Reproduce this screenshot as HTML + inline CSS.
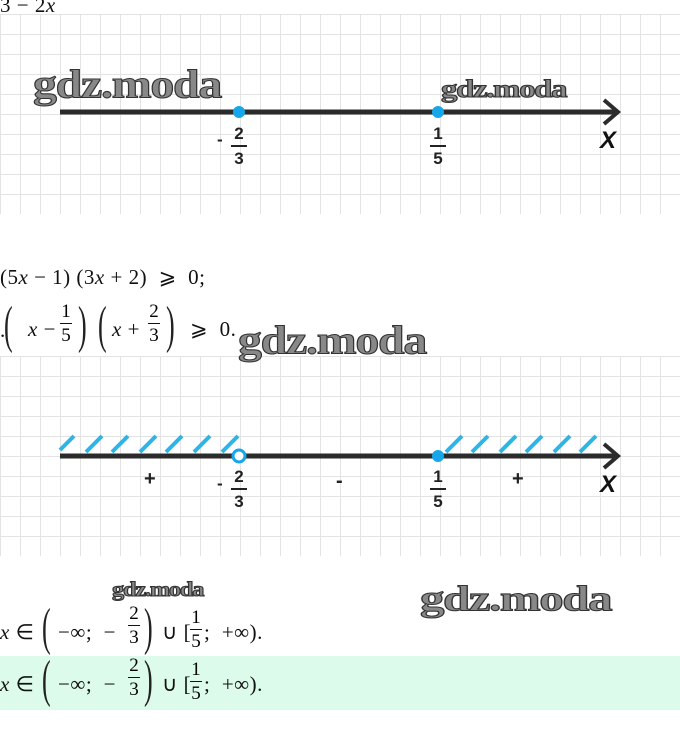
<!DOCTYPE html>
<html><head><meta charset="utf-8"><style>
body{margin:0;width:680px;height:745px;background:#fff;position:relative;overflow:hidden;font-family:"Liberation Serif",serif;}
.grid{position:absolute;left:0;width:680px;background-color:#fff;
background-image:linear-gradient(to right,#e3e3e3 1px,transparent 1px),linear-gradient(to bottom,#e3e3e3 1px,transparent 1px);
background-size:20px 20px;background-position:0 0;}
.a{position:absolute;white-space:nowrap;}
.m{font-size:21px;color:#111;letter-spacing:0.5px;}
.i{font-style:italic;}
.wm{font-family:"Liberation Serif",serif;font-weight:bold;color:#888;-webkit-text-stroke:1px #333;letter-spacing:-1px;transform-origin:left top;}
.lbl{font-family:"Liberation Sans",sans-serif;font-weight:bold;font-size:17px;color:#222;}
.fr{position:absolute;text-align:center;font-family:"Liberation Sans",sans-serif;font-weight:bold;font-size:17px;line-height:19px;color:#222;}
.fr .bar{height:2px;background:#222;margin:2px 0;}
.sf{position:absolute;text-align:center;font-size:19px;line-height:21px;}
.sf .bar{height:1px;background:#111;margin:1px 0;}
.par{position:absolute;font-size:52px;font-weight:100;transform:scaleX(0.5);transform-origin:left top;line-height:52px;color:#222;}
</style></head><body>
<div class="a m" style="left:0;top:-7px;">3 − 2<span class="i">x</span></div>
<div class="grid" style="top:14px;height:200px;"></div>
<div class="grid" style="top:356px;height:200px;"></div>

<svg class="a" style="left:0;top:0" width="680" height="745">
<line x1="60" y1="112" x2="616" y2="112" stroke="#2b2b2b" stroke-width="5"/>
<polyline points="604,100 618,112 604,124" fill="none" stroke="#2b2b2b" stroke-width="4"/>
<circle cx="239" cy="112" r="6" fill="#16a6ea"/>
<circle cx="438" cy="112" r="6" fill="#16a6ea"/>
<line x1="60" y1="456" x2="616" y2="456" stroke="#2b2b2b" stroke-width="5"/>
<polyline points="604,444 618,456 604,468" fill="none" stroke="#2b2b2b" stroke-width="4"/>
<g stroke="#2bb5e8" stroke-width="4">
<line x1="60" y1="450" x2="74" y2="436"/><line x1="86" y1="452" x2="102" y2="436"/><line x1="112" y1="452" x2="128" y2="436"/><line x1="140" y1="452" x2="156" y2="436"/><line x1="166" y1="452" x2="182" y2="436"/><line x1="194" y1="452" x2="210" y2="436"/><line x1="222" y1="452" x2="238" y2="436"/>
<line x1="446" y1="452" x2="462" y2="436"/><line x1="472" y1="452" x2="488" y2="436"/><line x1="500" y1="452" x2="516" y2="436"/><line x1="526" y1="452" x2="542" y2="436"/><line x1="554" y1="452" x2="570" y2="436"/><line x1="580" y1="452" x2="596" y2="436"/>
</g>
<circle cx="239" cy="456" r="6" fill="#fff" stroke="#16a6ea" stroke-width="3"/>
<circle cx="438" cy="456" r="6" fill="#16a6ea"/>
</svg>

<div class="a wm" style="left:33px;top:62px;font-size:38px;transform:scale(1.26,1.05);">gdz.moda</div>
<div class="a wm" style="left:441px;top:76px;font-size:24px;transform:scale(1.37,1.05);">gdz.moda</div>
<div class="a lbl" style="left:217px;top:130px;">-</div>
<div class="fr" style="left:231px;top:124px;width:16px;">2<div class="bar"></div>3</div>
<div class="fr" style="left:430px;top:124px;width:16px;">1<div class="bar"></div>5</div>
<div class="a" style="left:600px;top:127px;font-family:'Liberation Sans',sans-serif;font-weight:bold;font-style:italic;font-size:24px;color:#111;">X</div>

<div class="a lbl" style="left:144px;top:468px;font-size:20px;">+</div>
<div class="a lbl" style="left:217px;top:474px;">-</div>
<div class="fr" style="left:231px;top:467px;width:16px;">2<div class="bar"></div>3</div>
<div class="a lbl" style="left:336px;top:470px;font-size:20px;">-</div>
<div class="fr" style="left:430px;top:467px;width:16px;">1<div class="bar"></div>5</div>
<div class="a lbl" style="left:512px;top:468px;font-size:20px;">+</div>
<div class="a" style="left:600px;top:471px;font-family:'Liberation Sans',sans-serif;font-weight:bold;font-style:italic;font-size:24px;color:#111;">X</div>

<div class="a m" style="left:0;top:265px;">(5<span class="i">x</span> − 1) (3<span class="i">x</span> + 2) &nbsp;⩾ &nbsp;0;</div>
<div class="a m" style="left:0;top:318px;">.</div>
<div class="par" style="left:4px;top:300px;">(</div>
<div class="a m" style="left:28px;top:317px;"><span class="i">x</span> −</div>
<div class="sf" style="left:60px;top:301px;width:12px;">1<div class="bar"></div>5</div>
<div class="par" style="left:78px;top:300px;">)</div>
<div class="par" style="left:98px;top:300px;">(</div>
<div class="a m" style="left:112px;top:317px;"><span class="i">x</span> +</div>
<div class="sf" style="left:148px;top:301px;width:12px;">2<div class="bar"></div>3</div>
<div class="par" style="left:166px;top:300px;">)</div>
<div class="a m" style="left:190px;top:317px;">⩾ &nbsp;0.</div>
<div class="a wm" style="left:238px;top:318px;font-size:38px;transform:scale(1.26,1.05);">gdz.moda</div>

<div class="a wm" style="left:112px;top:578px;font-size:20px;transform:scale(1.22,1.05);">gdz.moda</div>
<div class="a wm" style="left:420px;top:580px;font-size:34px;transform:scale(1.44,1.05);">gdz.moda</div>

<div class="a" style="left:0;top:656px;width:680px;height:54px;background:#dcfbea;"></div>
<div class="a m" style="left:0;top:620px;"><span class="i">x</span> ∈</div>
<div class="par" style="left:42px;top:602px;">(</div>
<div class="a m" style="left:58px;top:620px;">−∞; &nbsp;−</div>
<div class="sf" style="left:128px;top:603px;width:12px;">2<div class="bar"></div>3</div>
<div class="par" style="left:144px;top:602px;">)</div>
<div class="a m" style="left:162px;top:620px;">∪ [</div>
<div class="sf" style="left:190px;top:607px;width:12px;">1<div class="bar"></div>5</div>
<div class="a m" style="left:204px;top:620px;">; &nbsp;+∞).</div>

<div class="a m" style="left:0;top:672px;"><span class="i">x</span> ∈</div>
<div class="par" style="left:42px;top:654px;">(</div>
<div class="a m" style="left:58px;top:672px;">−∞; &nbsp;−</div>
<div class="sf" style="left:128px;top:655px;width:12px;">2<div class="bar"></div>3</div>
<div class="par" style="left:144px;top:654px;">)</div>
<div class="a m" style="left:162px;top:672px;">∪ [</div>
<div class="sf" style="left:190px;top:659px;width:12px;">1<div class="bar"></div>5</div>
<div class="a m" style="left:204px;top:672px;">; &nbsp;+∞).</div>
</body></html>
